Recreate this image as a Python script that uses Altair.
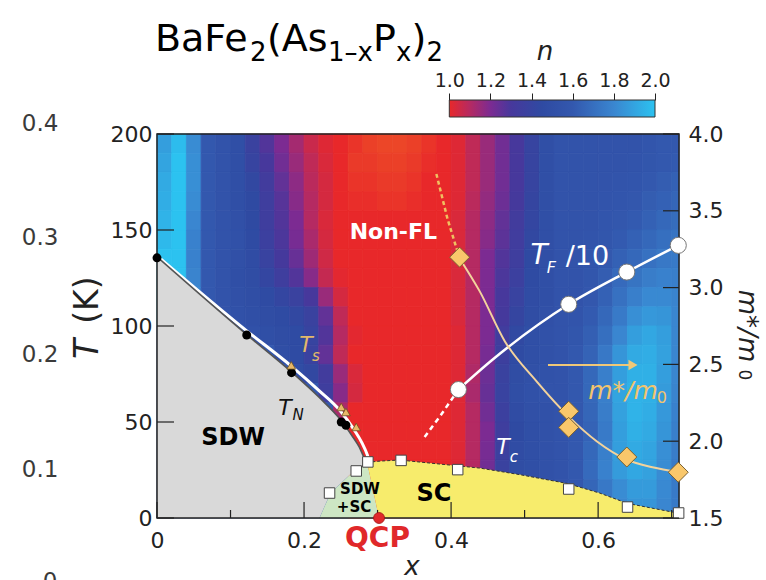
import altair as alt
import pandas as pd

# ---------------- heat-map of the exponent n ----------------
X_CENTERS = [0.01, 0.03, 0.05, 0.07, 0.09, 0.11, 0.13, 0.15, 0.17, 0.19, 0.21, 0.23,
             0.25, 0.27, 0.29, 0.31, 0.33, 0.35, 0.37, 0.39, 0.41, 0.43, 0.45, 0.47,
             0.49, 0.51, 0.53, 0.55, 0.57, 0.59, 0.61, 0.63, 0.65, 0.67, 0.69, 0.71]
T_CENTERS = [195, 185, 175, 165, 155, 145, 135, 125, 115, 105,
             95, 85, 75, 65, 55, 45, 35, 25, 15, 5]
R195 = [1.88, 1.98, 1.82, 1.6, 1.55, 1.5, 1.38, 1.28, 1.2, 1.13, 1.06, 1.02, 1.0, 0.98,
        0.96, 0.95, 0.95, 0.96, 0.98, 1.0, 1.02,
        1.08, 1.15, 1.22, 1.3, 1.4, 1.5, 1.55, 1.55, 1.55, 1.55, 1.55, 1.55, 1.57, 1.6, 1.6]
R185 = [1.9, 2.0, 1.83, 1.6, 1.55, 1.5, 1.4, 1.3, 1.22, 1.15, 1.08, 1.03, 1.0, 0.97,
        0.97, 0.96, 0.96, 0.97, 0.99, 1.0, 1.02,
        1.08, 1.15, 1.22, 1.3, 1.4, 1.5, 1.55, 1.55, 1.55, 1.55, 1.55, 1.56, 1.58, 1.6, 1.61]
R175 = [1.92, 2.0, 1.83, 1.6, 1.55, 1.5, 1.43, 1.33, 1.25, 1.17, 1.09, 1.04, 1.0, 0.98,
        0.98, 0.97, 0.97, 0.98, 1.0, 1.0, 1.02,
        1.08, 1.15, 1.22, 1.3, 1.4, 1.5, 1.55, 1.55, 1.55, 1.55, 1.56, 1.57, 1.6, 1.62, 1.64]
R165 = [1.93, 2.0, 1.82, 1.6, 1.55, 1.5, 1.45, 1.35, 1.27, 1.18, 1.1, 1.04, 1.0, 0.99,
        0.99, 0.98, 0.98, 0.99, 1.0, 1.0, 1.02,
        1.09, 1.16, 1.23, 1.31, 1.41, 1.5, 1.55, 1.55, 1.55, 1.56, 1.57, 1.59, 1.62, 1.64, 1.66]
R155 = [1.95, 2.0, 1.8, 1.6, 1.55, 1.51, 1.45, 1.35, 1.28, 1.2, 1.1, 1.03, 1.0, 1.0,
        1.0, 1.0, 1.0, 1.0, 1.0, 1.0, 1.03,
        1.1, 1.17, 1.25, 1.33, 1.42, 1.5, 1.55, 1.55, 1.55, 1.57, 1.59, 1.61, 1.64, 1.67, 1.69]
R145 = [1.97, 2.0, 1.78, 1.6, 1.55, 1.52, 1.46, 1.37, 1.29, 1.21, 1.12, 1.04, 1.0, 1.0,
        1.0, 1.0, 1.0, 1.0, 1.0, 1.0, 1.03,
        1.1, 1.18, 1.26, 1.34, 1.43, 1.5, 1.55, 1.55, 1.56, 1.58, 1.61, 1.64, 1.67, 1.7, 1.72]
R135 = [2.0, 2.0, 1.78, 1.6, 1.55, 1.51, 1.47, 1.39, 1.31, 1.24, 1.14, 1.05, 1.0, 1.0,
        1.0, 1.0, 1.0, 1.0, 1.0, 1.0, 1.03,
        1.1, 1.2, 1.28, 1.35, 1.45, 1.5, 1.55, 1.55, 1.57, 1.6, 1.64, 1.67, 1.71, 1.74, 1.75]
R125 = [2.0, 2.0, 1.79, 1.6, 1.55, 1.5, 1.48, 1.42, 1.35, 1.28, 1.18, 1.07, 1.01, 1.0,
        1.0, 1.0, 1.0, 1.0, 1.0, 1.0, 1.03,
        1.1, 1.2, 1.29, 1.37, 1.46, 1.5, 1.55, 1.55, 1.58, 1.62, 1.68, 1.72, 1.76, 1.78, 1.77]
R115 = [2.0, 2.0, 1.8, 1.6, 1.55, 1.51, 1.49, 1.46, 1.42, 1.38, 1.3, 1.15, 1.04, 1.0,
        1.0, 1.0, 1.0, 1.0, 1.0, 1.0, 1.03,
        1.1, 1.2, 1.3, 1.39, 1.47, 1.5, 1.55, 1.55, 1.59, 1.64, 1.71, 1.77, 1.81, 1.81, 1.79]
R105 = [2.0, 2.0, 1.82, 1.6, 1.55, 1.52, 1.5, 1.48, 1.46, 1.43, 1.38, 1.25, 1.08, 1.0,
        1.0, 1.0, 1.0, 1.0, 1.0, 1.0, 1.03,
        1.1, 1.2, 1.31, 1.41, 1.48, 1.51, 1.55, 1.56, 1.61, 1.67, 1.75, 1.83, 1.86, 1.85, 1.8]
R95 = [1.6, 1.6, 1.6, 1.6, 1.6, 1.6, 1.52, 1.5, 1.48, 1.46, 1.4, 1.28, 1.1, 1.01,
       1.0, 1.0, 1.0, 1.0, 1.0, 1.0, 1.02,
       1.1, 1.2, 1.34, 1.44, 1.5, 1.52, 1.55, 1.58, 1.63, 1.7, 1.8, 1.88, 1.91, 1.88, 1.8]
R85 = [1.6, 1.6, 1.6, 1.6, 1.6, 1.6, 1.6, 1.6, 1.49, 1.46, 1.38, 1.25, 1.08, 1.0,
       1.0, 1.0, 1.0, 1.0, 1.0, 1.0, 1.02,
       1.1, 1.21, 1.36, 1.46, 1.5, 1.52, 1.55, 1.6, 1.65, 1.74, 1.85, 1.92, 1.93, 1.89, 1.8]
R75 = [1.6, 1.6, 1.6, 1.6, 1.6, 1.6, 1.6, 1.6, 1.6, 1.48, 1.43, 1.33, 1.15, 1.03,
       1.0, 1.0, 1.0, 1.0, 1.0, 1.0, 1.02,
       1.11, 1.23, 1.38, 1.48, 1.51, 1.54, 1.55, 1.6, 1.67, 1.77, 1.88, 1.94, 1.94, 1.88, 1.8]
R65 = [1.6, 1.6, 1.6, 1.6, 1.6, 1.6, 1.6, 1.6, 1.6, 1.6, 1.6, 1.35, 1.18, 1.04,
       1.0, 1.0, 1.0, 1.0, 1.0, 1.0, 1.02,
       1.12, 1.24, 1.39, 1.49, 1.52, 1.55, 1.55, 1.6, 1.67, 1.77, 1.9, 1.95, 1.94, 1.87, 1.79]
R55 = [1.6, 1.6, 1.6, 1.6, 1.6, 1.6, 1.6, 1.6, 1.6, 1.6, 1.6, 1.6, 1.12, 1.0,
       1.0, 1.0, 1.0, 1.0, 1.0, 1.0, 1.02,
       1.1, 1.22, 1.37, 1.47, 1.51, 1.53, 1.55, 1.6, 1.66, 1.76, 1.89, 1.95, 1.93, 1.86, 1.78]
R45 = [1.6, 1.6, 1.6, 1.6, 1.6, 1.6, 1.6, 1.6, 1.6, 1.6, 1.6, 1.6, 1.6, 1.0,
       1.0, 1.0, 1.0, 1.0, 1.0, 1.0, 1.02,
       1.1, 1.2, 1.35, 1.45, 1.5, 1.52, 1.55, 1.6, 1.65, 1.75, 1.88, 1.94, 1.92, 1.85, 1.77]
R35 = [1.6, 1.6, 1.6, 1.6, 1.6, 1.6, 1.6, 1.6, 1.6, 1.6, 1.6, 1.6, 1.6, 1.0,
       1.0, 1.0, 1.0, 1.0, 1.0, 1.0, 1.02,
       1.1, 1.21, 1.37, 1.47, 1.5, 1.52, 1.55, 1.6, 1.67, 1.77, 1.88, 1.92, 1.9, 1.83, 1.76]
R25 = [1.6, 1.6, 1.6, 1.6, 1.6, 1.6, 1.6, 1.6, 1.6, 1.6, 1.6, 1.6, 1.6, 1.0,
       1.0, 1.0, 1.0, 1.0, 1.0, 1.0, 1.02,
       1.1, 1.22, 1.38, 1.48, 1.5, 1.52, 1.55, 1.6, 1.68, 1.78, 1.87, 1.91, 1.89, 1.82, 1.75]
R15 = [1.6, 1.6, 1.6, 1.6, 1.6, 1.6, 1.6, 1.6, 1.6, 1.6, 1.6, 1.6, 1.6, 1.0,
       1.0, 1.0, 1.0, 1.0, 1.0, 1.0, 1.02,
       1.1, 1.22, 1.38, 1.48, 1.5, 1.52, 1.55, 1.6, 1.66, 1.74, 1.82, 1.87, 1.87, 1.81, 1.75]
R5 = [1.6, 1.6, 1.6, 1.6, 1.6, 1.6, 1.6, 1.6, 1.6, 1.6, 1.6, 1.6, 1.6, 1.0,
      1.0, 1.0, 1.0, 1.0, 1.0, 1.0, 1.02,
      1.1, 1.22, 1.38, 1.48, 1.5, 1.52, 1.55, 1.6, 1.65, 1.72, 1.8, 1.85, 1.85, 1.8, 1.75]
N_ROWS = [R195, R185, R175, R165, R155, R145, R135, R125, R115, R105,
          R95, R85, R75, R65, R55, R45, R35, R25, R15, R5]

N_STOPS = [0.95, 1.0, 1.1, 1.2, 1.3, 1.45, 1.6, 1.8, 2.0]
N_COLORS = ['#ec4628', '#e8282a', '#b52a62', '#7c2b92', '#47389c', '#2f4aa2',
            '#3358ae', '#3a86d0', '#2cc2f0']
CBAR_TICKS = [1.0, 1.2, 1.4, 1.6, 1.8, 2.0]

# ---------------- phase boundaries ----------------
SDW_T = [0, 13, 25.7, 28.5, 29, 32, 37, 43, 51, 63, 76, 95.5, 136]
SDW_XR = [0.221, 0.236, 0.271, 0.286, 0.285, 0.281, 0.275, 0.265, 0.25, 0.22, 0.183, 0.122, 0.0]
GR_T = [0, 13, 25.7, 28.5]
GR_L = [0.221, 0.236, 0.271, 0.286]
GR_R = [0.302, 0.2948, 0.2877, 0.286]
SC_X = [0.286, 0.302, 0.33, 0.408, 0.439, 0.493, 0.558, 0.602, 0.64, 0.701, 0.71]
SC_TOP = [29.0, 29.6, 30.2, 27.2, 26.0, 22.6, 18.0, 13.0, 7.6, 3.1, 2.5]
SC_BOT = [28.5, 0, 0, 0, 0, 0, 0, 0, 0, 0, 0]
TN_LX = [0.0, 0.122, 0.183, 0.22, 0.25, 0.265, 0.275, 0.281, 0.285]
TN_LT = [136, 95.5, 76, 63, 51, 43, 37, 32, 29]
TS_LX = [0.005, 0.122, 0.183, 0.22, 0.25, 0.268, 0.279, 0.286, 0.289]
TS_LT = [135, 97.5, 79, 66.5, 55.5, 46, 39, 33, 29.5]

# ---------------- measured points ----------------
TN_X = [0.0, 0.122, 0.183, 0.2506, 0.257]
TN_T = [135.5, 95.3, 75.7, 50.0, 48.3]
TS_X = [0.1826, 0.2506, 0.257, 0.271]
TS_T = [79.5, 57.8, 55.2, 47.4]
SQ_X = [0.2347, 0.271, 0.2868, 0.332, 0.409, 0.56, 0.64, 0.7095]
SQ_T = [13.0, 24.5, 29.2, 30.0, 25.2, 15.1, 5.7, 2.6]
QCP_X = [0.302]
QCP_T = [0]
TF_X = [0.41, 0.56, 0.639, 0.709]
TF_T = [66.9, 111.3, 128.1, 142.0]
TF_CX = [0.41, 0.455, 0.56, 0.639, 0.709]
TF_CT = [66.9, 82.0, 111.3, 128.1, 142.0]
TF_DX = [0.364, 0.385, 0.41]
TF_DT = [42.2, 53.0, 66.9]
M_X = [0.4116, 0.56, 0.56, 0.639, 0.709]
M_V = [3.198, 2.195, 2.09, 1.897, 1.798]
MC_X = [0.4116, 0.4388, 0.473, 0.516, 0.56, 0.598, 0.639, 0.674, 0.709]
MC_V = [3.19, 2.977, 2.651, 2.391, 2.16, 2.0, 1.88, 1.83, 1.798]
MD_X = [0.38, 0.395, 0.4116]
MD_V = [3.74, 3.45, 3.19]

T_TICKS = [0, 50, 100, 150, 200]
X_MAJOR = [0, 0.2, 0.4, 0.6]
X_MINOR = [0.1, 0.3, 0.5, 0.7]
M_TICKS = [1.5, 2.0, 2.5, 3.0, 3.5, 4.0]

W, H = 522, 384
FONT = 'DejaVu Sans'

XS = alt.Scale(domain=[0, 0.71], nice=False, zero=False)
TS = alt.Scale(domain=[0, 200], nice=False, zero=False)
MS = alt.Scale(domain=[1.5, 4.0], nice=False, zero=False)
CS = alt.Scale(domain=N_STOPS, range=N_COLORS, interpolate='rgb')

AX_X = alt.Axis(values=X_MAJOR, format='.1~f', ticks=False, domain=False, grid=False,
                labelFont=FONT, labelFontSize=22, labelColor='#222', labelPadding=12,
                labelFlush=False, labelOverlap=False, title=None)
AX_T = alt.Axis(values=T_TICKS, ticks=False, domain=False, grid=False,
                labelFont=FONT, labelFontSize=22, labelColor='#222', labelPadding=5,
                labelFlush=False, labelOverlap=False, title=None)
AX_M = alt.Axis(orient='right', values=M_TICKS, format='.1f', ticks=False, domain=False,
                grid=False, labelFont=FONT, labelFontSize=22, labelColor='#222',
                labelPadding=9, labelFlush=False, labelOverlap=False, title=None)
AX_C = alt.Axis(orient='top', values=CBAR_TICKS, format='.1f', offset=34, tickSize=7,
                tickColor='#222', tickWidth=1, domain=False, grid=False,
                labelFont=FONT, labelFontSize=19, labelColor='#222', labelPadding=3,
                labelFlush=False, labelOverlap=False, title=None)


def xq(f):
    return alt.X(f + ':Q', scale=XS, axis=AX_X)


def tq(f):
    return alt.Y(f + ':Q', scale=TS, axis=AX_T)


def xm(f):
    return alt.X(f + ':Q', scale=XS, axis=None)


def mq(f):
    return alt.Y(f + ':Q', scale=MS, axis=AX_M)


def pts(xs, ys, yname='T'):
    return pd.DataFrame({'x': xs, yname: ys, 'i': list(range(len(xs)))})


def text_layer(items, **style):
    df = pd.DataFrame(items, columns=['x', 'T', 'label'])
    return alt.Chart(df).mark_text(**style).encode(x=xq('x'), y=tq('T'), text='label:N')


# heat map cells
cells = []
for T, row in zip(T_CENTERS, N_ROWS):
    for xc, n in zip(X_CENTERS, row):
        cells.append({'x0': max(xc - 0.01, 0.0), 'x1': min(xc + 0.01, 0.71),
                      'T0': T - 5, 'T1': T + 5, 'n': n})
heat_df = pd.DataFrame(cells)

heat = alt.Chart(heat_df).mark_rect(strokeWidth=0.8).encode(
    x=xq('x0'), x2='x1', y=tq('T0'), y2='T1',
    color=alt.Color('n:Q', scale=CS, legend=None),
    stroke=alt.Stroke('n:Q', scale=CS, legend=None))

sdw_df = pd.DataFrame({'T': SDW_T, 'xl': [0.0] * len(SDW_T), 'xr': SDW_XR})
sdw = alt.Chart(sdw_df).mark_area(orient='horizontal', color='#d9d9d9', opacity=1).encode(
    y=tq('T'), x=xq('xl'), x2='xr')

gr_df = pd.DataFrame({'T': GR_T, 'xl': GR_L, 'xr': GR_R})
green = alt.Chart(gr_df).mark_area(orient='horizontal', color='#cde6c4', opacity=1).encode(
    y=tq('T'), x=xq('xl'), x2='xr')

sc_df = pd.DataFrame({'x': SC_X, 'top': SC_TOP, 'bot': SC_BOT})
yellow = alt.Chart(sc_df).mark_area(orient='vertical', color='#f7ec6c', opacity=1).encode(
    x=xq('x'), y=tq('top'), y2='bot')

ts_line = alt.Chart(pts(TS_LX, TS_LT)).mark_line(color='white', strokeWidth=3,
                                                  interpolate='monotone').encode(
    x=xq('x'), y=tq('T'), order='i:Q')
tn_line = alt.Chart(pts(TN_LX, TN_LT)).mark_line(color='#555555', strokeWidth=1.6,
                                                  interpolate='monotone').encode(
    x=xq('x'), y=tq('T'), order='i:Q')
tc_line = alt.Chart(pts(SC_X, SC_TOP)).mark_line(color='#333333', strokeWidth=1,
                                                  strokeDash=[3, 2]).encode(
    x=xq('x'), y=tq('T'), order='i:Q')
tf_line = alt.Chart(pts(TF_CX, TF_CT)).mark_line(color='white', strokeWidth=2.5,
                                                  interpolate='monotone').encode(
    x=xq('x'), y=tq('T'), order='i:Q')
tf_dash = alt.Chart(pts(TF_DX, TF_DT)).mark_line(color='white', strokeWidth=2.5,
                                                  strokeDash=[5, 4]).encode(
    x=xq('x'), y=tq('T'), order='i:Q')

frame = alt.Chart(pd.DataFrame({'a': [0]})).mark_rect(filled=False, stroke='#222',
                                                       strokeWidth=1.5).encode(
    x=alt.value(0), x2=alt.value(W), y=alt.value(0), y2=alt.value(H))

lticks = alt.Chart(pd.DataFrame({'T': T_TICKS})).mark_rule(color='#222', strokeWidth=1.2).encode(
    y=tq('T'), x=alt.value(0), x2=alt.value(17))
bmajor = alt.Chart(pd.DataFrame({'x': X_MAJOR})).mark_rule(color='#222', strokeWidth=1.2).encode(
    x=xq('x'), y=alt.value(H), y2=alt.value(H - 16))
bminor = alt.Chart(pd.DataFrame({'x': X_MINOR})).mark_rule(color='#222', strokeWidth=1.2).encode(
    x=xq('x'), y=alt.value(H), y2=alt.value(H - 8))

arrow_df = pd.DataFrame({'x': [0.5318, 0.645], 'T': [79.7, 79.7], 'i': [0, 1]})
arrow = alt.Chart(arrow_df).mark_line(color='#f0c878', strokeWidth=2.2).encode(
    x=xq('x'), y=tq('T'), order='i:Q')
arrow_head = alt.Chart(pd.DataFrame({'x': [0.6474], 'T': [79.7]})).mark_point(
    shape='triangle-right', filled=True, color='#f0c878', size=110, opacity=1).encode(
    x=xq('x'), y=tq('T'))

# texts
title_big = text_layer([(-0.0027, 243.2, 'BaFe'), (0.1496, 243.2, '(As'),
                        (0.2938, 243.2, 'P'), (0.3462, 243.2, ')')],
                       font=FONT, fontSize=38, color='black', align='left', baseline='alphabetic')
title_sub = text_layer([(0.1265, 238.0, '2'), (0.2326, 238.0, '1–x'),
                        (0.3251, 238.0, 'x'), (0.3666, 238.0, '2')],
                       font=FONT, fontSize=26, color='black', align='left', baseline='alphabetic')
n_title = text_layer([(0.5277, 242.7, 'n')], font=FONT, fontSize=26, fontStyle='italic',
                     color='#222', align='center', baseline='middle')
outer = text_layer([(-0.1591, 205.2, '0.4'), (-0.1591, 145.8, '0.3'), (-0.1591, 84.9, '0.2'),
                    (-0.1591, 25.0, '0.1'), (-0.1455, -33.1, '0')],
                   font=FONT, fontSize=23, color='#3a3a3a', align='center', baseline='middle')
t_axis_T = text_layer([(-0.0939, 88.0, 'T')], font=FONT, fontSize=33, fontStyle='italic',
                      color='#222', align='center', baseline='middle', angle=270)
t_axis_K = text_layer([(-0.0939, 113.5, '(K)')], font=FONT, fontSize=33,
                      color='#222', align='center', baseline='middle', angle=270)
m_axis = text_layer([(0.8025, 100.0, 'm*/m')], font=FONT, fontSize=26, fontStyle='italic',
                    color='#222', align='center', baseline='middle', angle=90)
m_axis0 = text_layer([(0.7985, 74.5, '0')], font=FONT, fontSize=17,
                     color='#222', align='center', baseline='middle', angle=90)
x_title = text_layer([(0.3468, -25.5, 'x')], font=FONT, fontSize=26, fontStyle='italic',
                     color='#222', align='center', baseline='middle')
qcp = text_layer([(0.2999, -10.7, 'QCP')], font=FONT, fontSize=28, fontWeight='bold',
                 color='#e0282a', align='center', baseline='middle')
nonfl = text_layer([(0.3215, 149.0, 'Non-FL')], font=FONT, fontSize=22, fontWeight='bold',
                   color='white', align='center', baseline='middle')
big_bold = text_layer([(0.1034, 41.7, 'SDW'), (0.3768, 12.5, 'SC')], font=FONT, fontSize=24,
                      fontWeight='bold', color='black', align='center', baseline='middle')
small_bold = text_layer([(0.2761, 15.2, 'SDW'), (0.268, 5.7, '+SC')], font=FONT, fontSize=15,
                        fontWeight='bold', color='black', align='center', baseline='middle')
ts_T = text_layer([(0.2027, 90.1, 'T')], font=FONT, fontSize=22, fontStyle='italic',
                  color='#e2b96a', align='center', baseline='middle')
ts_s = text_layer([(0.2163, 84.4, 's')], font=FONT, fontSize=15, fontStyle='italic',
                  color='#e2b96a', align='center', baseline='middle')
tn_T = text_layer([(0.1741, 57.3, 'T')], font=FONT, fontSize=22, fontStyle='italic',
                  color='#111', align='center', baseline='middle')
tn_N = text_layer([(0.1918, 53.6, 'N')], font=FONT, fontSize=15, fontStyle='italic',
                  color='#111', align='center', baseline='middle')
tc_T = text_layer([(0.4706, 37.0, 'T')], font=FONT, fontSize=22, fontStyle='italic',
                  color='white', align='center', baseline='middle')
tc_c = text_layer([(0.4855, 31.8, 'c')], font=FONT, fontSize=15, fontStyle='italic',
                  color='white', align='center', baseline='middle')
tf_T = text_layer([(0.5196, 136.5, 'T')], font=FONT, fontSize=28, fontStyle='italic',
                  color='white', align='center', baseline='middle')
tf_F = text_layer([(0.5362, 130.3, 'F')], font=FONT, fontSize=16, fontStyle='italic',
                  color='white', align='center', baseline='middle')
tf_10 = text_layer([(0.5855, 135.9, '/10')], font=FONT, fontSize=27,
                   color='white', align='center', baseline='middle')
mm_txt = text_layer([(0.6338, 66.1, 'm*/m')], font=FONT, fontSize=25, fontStyle='italic',
                    color='#f2c46e', align='center', baseline='middle')
mm_0 = text_layer([(0.6868, 62.5, '0')], font=FONT, fontSize=16,
                  color='#f2c46e', align='center', baseline='middle')

# markers
tn_dots = alt.Chart(pts(TN_X, TN_T)).mark_point(shape='circle', filled=True, color='black',
                                                size=80, opacity=1).encode(x=xq('x'), y=tq('T'))
ts_tri = alt.Chart(pts(TS_X, TS_T)).mark_point(shape='triangle-up', filled=True, fill='#e8b868',
                                               stroke='#6a5020', strokeWidth=0.8, size=75,
                                               opacity=1).encode(x=xq('x'), y=tq('T'))
squares = alt.Chart(pts(SQ_X, SQ_T)).mark_point(shape='square', filled=True, fill='white',
                                                stroke='#444', strokeWidth=1, size=110,
                                                opacity=1).encode(x=xq('x'), y=tq('T'))
qcp_dot = alt.Chart(pts(QCP_X, QCP_T)).mark_point(shape='circle', filled=True, fill='#e0282a',
                                                  stroke='#a01010', strokeWidth=0.8, size=120,
                                                  opacity=1).encode(x=xq('x'), y=tq('T'))
tf_dots = alt.Chart(pts(TF_X, TF_T)).mark_point(shape='circle', filled=True, fill='white',
                                                stroke='#777', strokeWidth=1, size=260,
                                                opacity=1).encode(x=xq('x'), y=tq('T'))

t_group = alt.layer(heat, sdw, green, yellow, ts_line, tn_line, tc_line, tf_line, tf_dash,
                    frame, lticks, bmajor, bminor, arrow, arrow_head,
                    title_big, title_sub, n_title, outer, t_axis_T, t_axis_K, m_axis, m_axis0,
                    x_title, qcp, nonfl, big_bold, small_bold, ts_T, ts_s, tn_T, tn_N,
                    tc_T, tc_c, tf_T, tf_F, tf_10, mm_txt, mm_0,
                    tn_dots, ts_tri, squares, qcp_dot, tf_dots)

# m*/m0 on the right axis
m_dash = alt.Chart(pts(MD_X, MD_V, 'm')).mark_line(color='#f0c060', strokeWidth=2.5,
                                                   strokeDash=[4, 3]).encode(
    x=xm('x'), y=mq('m'), order='i:Q')
m_line = alt.Chart(pts(MC_X, MC_V, 'm')).mark_line(color='#f3d39c', strokeWidth=2,
                                                   interpolate='monotone').encode(
    x=xm('x'), y=mq('m'), order='i:Q')
rticks = alt.Chart(pd.DataFrame({'m': M_TICKS})).mark_rule(color='#222', strokeWidth=1.2).encode(
    y=mq('m'), x=alt.value(W - 16), x2=alt.value(W))
diamonds = alt.Chart(pts(M_X, M_V, 'm')).mark_point(shape='diamond', filled=True, fill='#f9c76b',
                                                    stroke='#7a6030', strokeWidth=1, size=400,
                                                    opacity=1).encode(x=xm('x'), y=mq('m'))
m_group = alt.layer(m_dash, m_line, rticks, diamonds)

# colour bar
GRAD = {'gradient': 'linear', 'x1': 0, 'x2': 1, 'y1': 0, 'y2': 0,
        'stops': [{'offset': round(n - 1.0, 3), 'color': c}
                  for n, c in zip(N_STOPS, N_COLORS) if n >= 1.0]}
cbar = alt.Chart(pd.DataFrame({'n0': [1.0], 'n1': [2.0]})).mark_rect(
    fill=GRAD, stroke='#333', strokeWidth=1).encode(
    x=alt.X('n0:Q', scale=alt.Scale(domain=[1.0, 2.0], range=[292.3, 498.0], nice=False, zero=False),
            axis=AX_C),
    x2='n1', y=alt.value(-34), y2=alt.value(-17))

chart = alt.layer(t_group, m_group, cbar).resolve_scale(
    x='independent', y='independent').properties(
    width=W, height=H,
    padding={'left': 157, 'top': 134, 'right': 87, 'bottom': 62},
    autosize=alt.AutoSizeParams(type='none'),
    background='white').configure_view(strokeWidth=0)

chart.save('out.html', embed_options={'renderer': 'svg', 'actions': False})
